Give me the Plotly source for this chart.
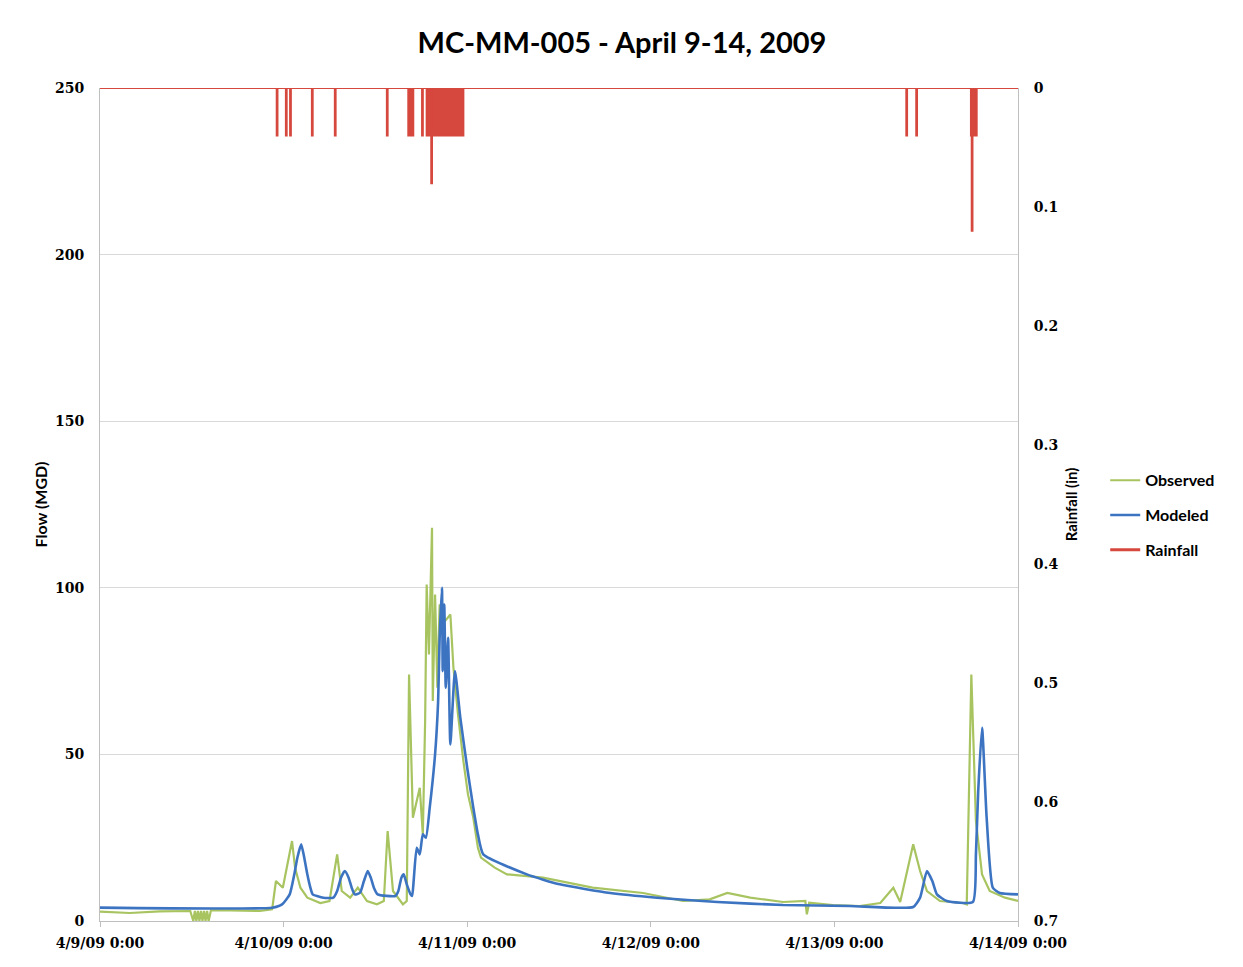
import pandas as pd
import plotly.graph_objects as go

# ---- data (hours after 4/9/09 0:00, flow in MGD, rainfall in inches) ----
start = pd.Timestamp("2009-04-09 00:00")

obs_hours = [0, 3.9, 7.8, 11.8, 12.2, 12.4, 12.6, 12.8, 13.0, 13.2, 13.4, 13.6, 13.8, 14.0, 14.2, 14.5,
             17, 20.9, 22.5, 23.0, 23.9, 24.6, 25.1, 25.5, 26.2, 27.1, 28.8, 30.0, 31.0, 31.6, 32.7,
             33.7, 34.9, 36.2, 37.1, 37.6, 38.3, 39.6, 40.1, 40.4, 40.7, 40.9, 41.8, 42.2, 42.5, 42.7,
             43.0, 43.4, 43.5, 43.8, 44.1, 44.4, 45.1, 45.8, 46.2, 46.8, 47.5, 48.1, 48.8, 49.4, 49.8,
             51.6, 53.2, 57.9, 64.4, 71.0, 76.2, 79.7, 82.0, 85.0, 89.3, 92.2, 92.4, 92.7, 95.8, 99.3,
             102.0, 103.7, 104.6, 106.3, 107.2, 108.1, 109.8, 112.8, 113.3, 113.9, 114.5, 115.3, 116.3,
             118.3, 120]
obs_mgd = [2.8, 2.4, 2.9, 3.0, 0, 3, 0, 3, 0, 3, 0, 3, 0, 3, 0, 3.2,
           3.2, 3.0, 3.5, 12, 10, 18, 24, 16, 10, 7, 5.4, 6, 20, 9, 7,
           10, 6, 5, 6, 27, 9, 5, 6, 74, 45, 31, 40, 26, 60, 101,
           80, 118, 66, 98, 70, 95, 90, 92, 76, 62, 48, 38, 31, 22, 19,
           16, 14, 13, 10, 8.4, 6, 6.5, 8.4, 7, 5.7, 6, 2, 5.5, 4.8, 4.5,
           5.4, 10, 5.7, 23, 15, 9, 6, 5.4, 5, 74, 30, 14, 9,
           7, 6]

mod_hours = [0, 22.5, 23.8, 24.8, 25.4, 25.8, 26.3, 26.7, 27.1, 27.5, 27.8, 29.2, 30.5, 31.0, 31.5,
             32.0, 32.5, 32.9, 33.3, 34.0, 34.5, 35.0, 35.4, 35.8, 36.3, 38.6, 39.0, 39.4, 39.7, 40.1,
             40.6, 40.8, 41.0, 41.4, 41.8, 42.2, 42.6, 43.1, 43.8, 44.2, 44.4, 44.7, 44.8, 45.0, 45.2,
             45.5, 45.8, 46.4, 47.1, 48.0, 48.8, 49.4, 50.1, 55.8, 60.1, 66.7, 72.8, 80.7, 89.3, 98.0,
             106.3, 107.2, 108.1, 108.8, 109.4, 110.7, 114.1, 114.5, 114.8, 115.3, 115.9, 116.7, 117.6,
             120]
mod_mgd = [4, 4, 5, 8, 14, 19, 23, 19, 14, 10, 8, 7, 7, 9, 13,
           15, 13, 10, 8, 8.5, 12, 15, 13, 10, 8, 7.5, 9, 13, 14, 11,
           8, 7.5, 12, 22, 20, 26, 25, 34, 50, 66, 85, 100, 75, 95, 70,
           85, 53, 75, 61, 46, 34, 26, 20, 14, 11, 8.4, 7, 5.7, 4.8, 4.5,
           4.2, 7, 15, 12, 8, 6, 5.7, 20, 39, 58, 31, 10, 8.4,
           8]

rain_start_h = [23.1, 24.3, 24.85, 27.7, 30.7, 37.5, 40.3, 42.1, 42.7, 43.3, 43.4,
                105.4, 106.7, 113.85, 113.95, 114.05]
rain_end_h = [23.2, 24.4, 24.95, 27.8, 30.8, 37.6, 40.95, 42.2, 43.3, 43.4, 47.5,
              105.5, 106.8, 113.95, 114.05, 114.6]
rain_in = [0.04, 0.04, 0.04, 0.04, 0.04, 0.04, 0.04, 0.04, 0.04, 0.08, 0.04,
           0.04, 0.04, 0.04, 0.12, 0.04]

day_ticks = ["2009-04-09", "2009-04-10", "2009-04-11", "2009-04-12", "2009-04-13", "2009-04-14"]
flow_ticks = [0, 50, 100, 150, 200, 250]
rain_ticks = [0, 0.1, 0.2, 0.3, 0.4, 0.5, 0.6, 0.7]
rain_tick_text = ["0", "0.1", "0.2", "0.3", "0.4", "0.5", "0.6", "0.7"]

# ---- helpers ----
def to_time(hours):
    return [start + pd.Timedelta(hours=h) for h in hours]

rain_h, rain_v = [0.0], [0.0]
for s, e, v in zip(rain_start_h, rain_end_h, rain_in):
    rain_h += [s, e]
    rain_v += [v, 0.0]
rain_h.append(120.0)
rain_v.append(0.0)

GREEN = "#a8c460"
BLUE = "#3d74c2"
RED = "#d6473d"
tick_font = dict(family="DejaVu Serif", size=14, color="black", weight="bold")

W, H = 1235, 959  # page body offsets the figure by 8px

fig = go.Figure()
fig.add_trace(go.Scatter(x=to_time(obs_hours), y=obs_mgd, mode="lines",
                         line=dict(color=GREEN, width=2.2), name="Observed", legendgroup="o"))
fig.add_trace(go.Scatter(x=to_time(mod_hours), y=mod_mgd, mode="lines",
                         line=dict(color=BLUE, width=2.6, shape="spline", smoothing=0.5),
                         name="Modeled", legendgroup="m"))
fig.add_trace(go.Scatter(x=to_time(rain_h), y=rain_v, yaxis="y2", mode="lines",
                         line=dict(color=RED, width=2, shape="hv"), fill="tozeroy",
                         fillcolor=RED, name="Rainfall", legendgroup="r", showlegend=False))
fig.add_trace(go.Scatter(x=[None], y=[None], mode="lines", line=dict(color=RED, width=3),
                         name="Rainfall", legendgroup="r"))

fig.update_layout(
    width=W, height=H,
    margin=dict(l=92, r=W - 92 - 918, t=80, b=H - 80 - 833),
    plot_bgcolor="white", paper_bgcolor="white",
    title=dict(text="MC-MM-005 - April 9-14, 2009", x=(622 - 8) / W, xref="container",
               xanchor="center", y=1 - (43 - 8) / H, yref="container", yanchor="middle",
               font=dict(family="Lato", size=29, color="black", weight="bold")),
    xaxis=dict(type="date", range=[start, start + pd.Timedelta(hours=120)],
               tickvals=day_ticks, tickformat="%-m/%-d/%y %-H:%M",
               ticks="outside", ticklen=5, tickcolor="#bfbfbf",
               showline=True, linecolor="#bfbfbf", linewidth=1, showgrid=False,
               zeroline=False, tickfont=tick_font, ticklabelstandoff=4),
    yaxis=dict(range=[0, 250], tickvals=flow_ticks, showgrid=True, gridcolor="#d9d9d9",
               showline=True, linecolor="#bfbfbf", zeroline=False, ticks="",
               tickfont=tick_font, ticklabelstandoff=12,
               title=dict(text="Flow (MGD)", standoff=3,
                          font=dict(family="Lato", size=16, color="black", weight="bold"))),
    yaxis2=dict(overlaying="y", side="right", range=[0.7, 0], tickvals=rain_ticks,
                ticktext=rain_tick_text, showgrid=False, showline=True, linecolor="#bfbfbf",
                zeroline=False, ticks="", tickfont=tick_font, ticklabelstandoff=12,
                title=dict(text="Rainfall (in)", standoff=9,
                           font=dict(family="Lato", size=15, color="black", weight="bold"))),
    legend=dict(x=1.095, xanchor="left", y=0.487, yanchor="middle", tracegroupgap=11,
                font=dict(family="Lato", size=16, color="black", weight="bold"),
                bgcolor="rgba(0,0,0,0)", traceorder="grouped"),
    showlegend=True,
)

fig.write_html("out.html")
